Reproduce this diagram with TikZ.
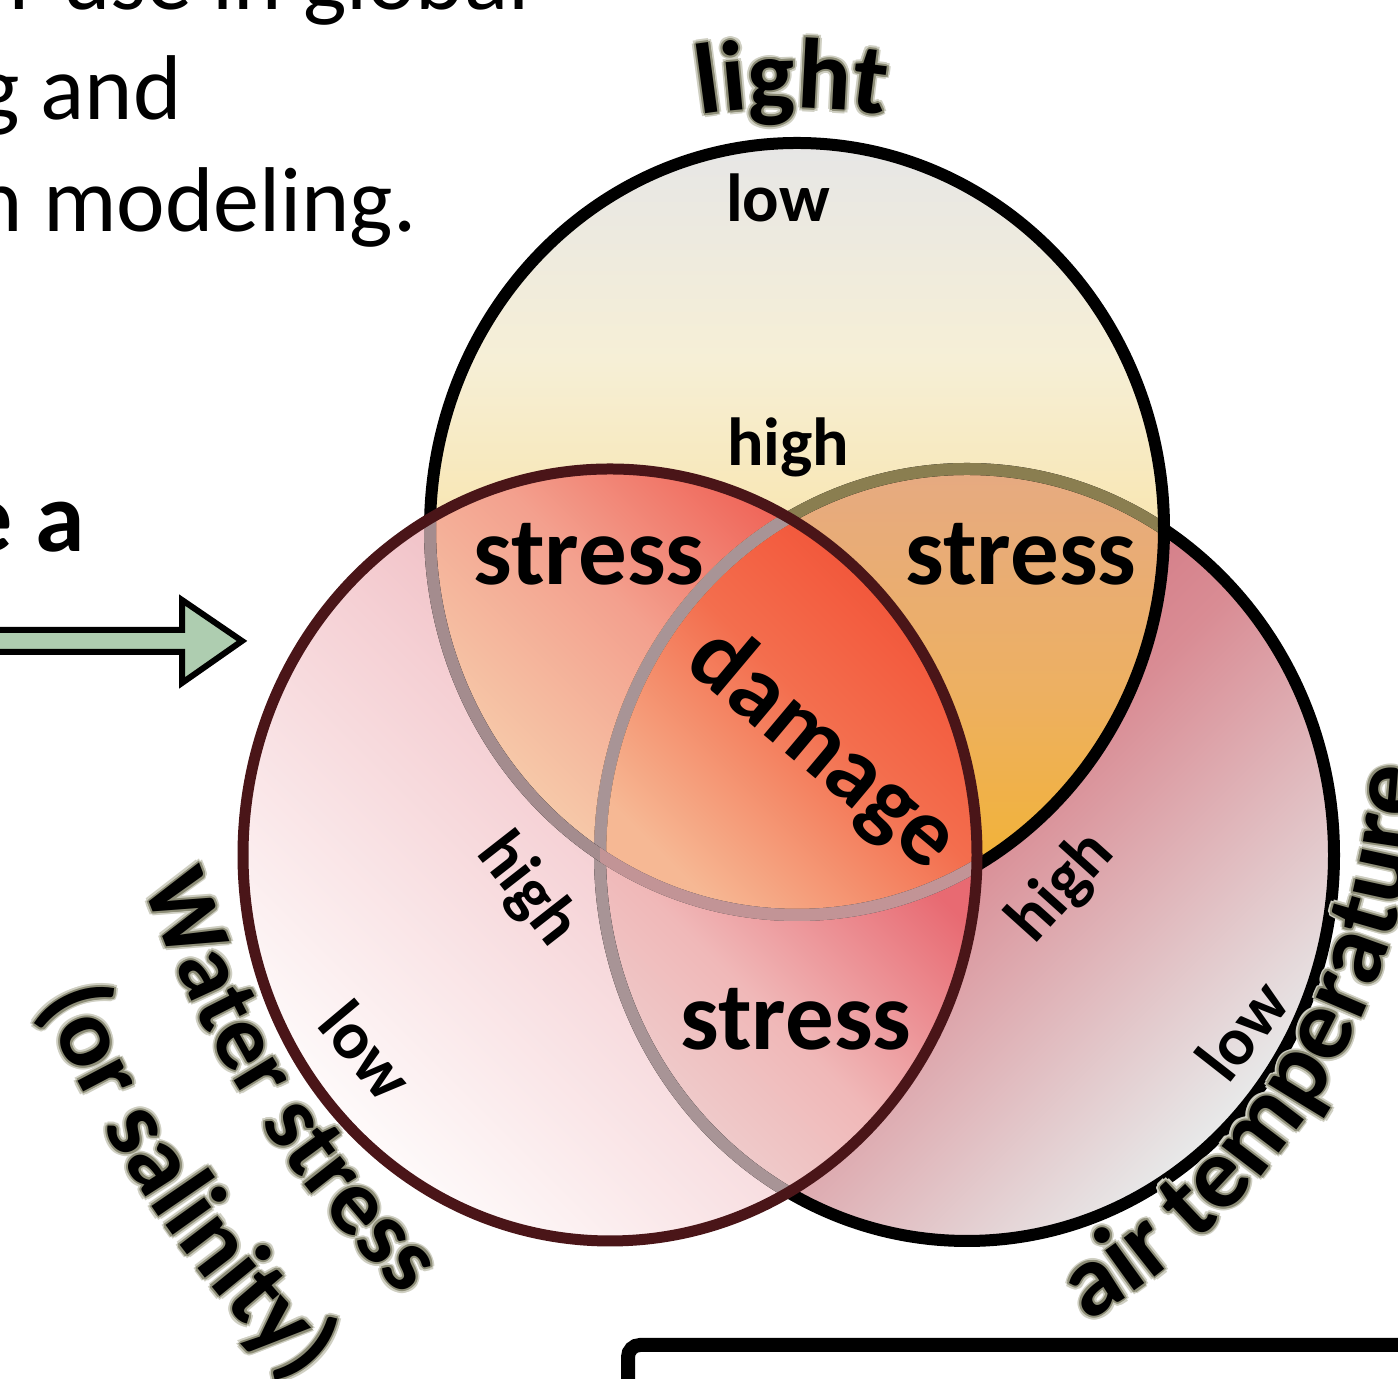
\documentclass[tikz,border=0pt]{standalone}
\usepackage{fontspec}
\setmainfont{Carlito}
\usetikzlibrary{decorations.text}
\definecolor{Lline}{HTML}{4A1518}
\definecolor{arrowgreen}{HTML}{AECDB0}
\definecolor{glowout}{HTML}{CFCFC2}
\definecolor{glowin}{HTML}{8E8E78}
\definecolor{Ttop}{HTML}{E6E6E6}
\definecolor{Tmid}{HTML}{F6EFD6}
\definecolor{Tbot}{HTML}{F9E3A6}
\definecolor{Rdark}{HTML}{C85868}
\definecolor{Rmid}{HTML}{D98C94}
\definecolor{Rlight}{HTML}{E8EAEA}
\definecolor{Ldark}{HTML}{E8A0A8}
\definecolor{Lmid}{HTML}{F5D0D4}
\definecolor{Llight}{HTML}{FEFAFA}
\definecolor{TRtop}{HTML}{E6AA82}
\definecolor{TRmid}{HTML}{EDB062}
\definecolor{TRbot}{HTML}{F3B32C}
\definecolor{TLdark}{HTML}{EE4A40}
\definecolor{TLmid}{HTML}{F3A08E}
\definecolor{TLlight}{HTML}{F7D4B0}
\definecolor{Cdark}{HTML}{F24A30}
\definecolor{Cmid}{HTML}{F36E4E}
\definecolor{Clight}{HTML}{F6B894}
\definecolor{LRdark}{HTML}{E86A72}
\definecolor{LRmid}{HTML}{F0B8B8}
\definecolor{LRlight}{HTML}{EED6D6}
\definecolor{olivefade}{HTML}{8A7E50}
\definecolor{grayfadeL}{HTML}{A89496}
\definecolor{peachfade}{HTML}{EFA286}
\definecolor{TfadeL}{HTML}{A48C8E}
\definecolor{TfadeLR}{HTML}{C29496}
\newcommand{\ArcLabel}[4]{%
  \foreach \gx/\gy in {4/0,-4/0,0/4,0/-4,3/3,-3/3,3/-3,-3/-3}{%
    \path[shift={(\gx,\gy)}, decorate,
      decoration={text along path, text={|\color{glowout}#1|#2}, text align=#3}] #4;}
  \foreach \gx/\gy in {2/0,-2/0,0/2,0/-2,1.5/1.5,-1.5/1.5,1.5/-1.5,-1.5/-1.5}{%
    \path[shift={(\gx,\gy)}, decorate,
      decoration={text along path, text={|\color{glowin}#1|#2}, text align=#3}] #4;}
  \path[decorate, decoration={text along path, text={|#1|#2}, text align=#3}] #4;
}
\begin{document}
\begin{tikzpicture}[x=0.5pt,y=0.5pt,
  Tp/.style={insert path={(797,850) ellipse [x radius=183.5pt, y radius=193pt]}},
  Lp/.style={insert path={(610,524) ellipse [x radius=183.5pt, y radius=193pt]}},
  Rp/.style={insert path={(967,524) ellipse [x radius=183.5pt, y radius=193pt]}},
  notT/.style={insert path={(3000,-1000) rectangle (-1000,3000) (797,850) ellipse [x radius=183.5pt, y radius=193pt]}},
  notL/.style={insert path={(3000,-1000) rectangle (-1000,3000) (610,524) ellipse [x radius=183.5pt, y radius=193pt]}},
  notR/.style={insert path={(3000,-1000) rectangle (-1000,3000) (967,524) ellipse [x radius=183.5pt, y radius=193pt]}},
  ring/.style={line width=6pt},
  lowhigh/.style={font=\fontsize{34}{40}\selectfont\bfseries, inner sep=0pt},
  bigword/.style={font=\fontsize{48.5}{56}\selectfont\bfseries, inner sep=0pt},
  bodytext/.style={font=\fontsize{46}{55}\selectfont, inner sep=0pt, anchor=base east},
]
\useasboundingbox (0,0) rectangle (1398,1379);
\clip (0,0) rectangle (1398,1379);
\fill[white] (0,0) rectangle (1398,1379);

% ---------- fills ----------
\shade[Rp, top color=Rdark, bottom color=Rlight, middle color=Rmid, shading angle=45];
\begin{scope}
  \clip[Tp];
  \fill[Tbot] (400,400) rectangle (1200,1300);
  \shade[top color=Ttop, bottom color=Tbot, middle color=Tmid] (425,799) rectangle (1170,1239);
\end{scope}
\begin{scope}
  \clip[Lp];
  \fill[Llight] (200,100) rectangle (1000,960);
  \shade[Lp, top color=Ldark, bottom color=Llight, middle color=Lmid, shading angle=-45];
\end{scope}
\begin{scope}
  \clip[Tp]; \clip[Rp];
  \shade[top color=TRtop, bottom color=TRbot, middle color=TRmid] (595,466) rectangle (1172,913);
\end{scope}
\begin{scope}
  \clip[Tp]; \clip[Lp];
  \shade[top color=TLdark, bottom color=TLlight, middle color=TLmid, shading angle=-45] (425,466) rectangle (990,913);
\end{scope}
\begin{scope}
  \clip[Lp]; \clip[Rp];
  \shade[top color=LRdark, bottom color=LRlight, middle color=LRmid, shading angle=-45] (595,129) rectangle (985,559);
\end{scope}
\begin{scope}
  \clip[Tp]; \clip[Lp]; \clip[Rp];
  \shade[top color=Cdark, bottom color=Clight, middle color=Cmid, shading angle=-45] (595,466) rectangle (990,913);
\end{scope}

% ---------- outlines ----------
\begin{scope}\clip[notT]; \clip[notL]; \draw[Rp, ring, black]; \end{scope}
\begin{scope}\clip[Tp]; \clip[notL]; \draw[Rp, ring, olivefade]; \end{scope}
\begin{scope}\clip[Tp]; \clip[Lp]; \draw[Rp, ring, peachfade]; \end{scope}
\begin{scope}\clip[Lp]; \clip[notT]; \draw[Rp, ring, grayfadeL]; \end{scope}
\begin{scope}\clip[notL]; \draw[Tp, ring, black]; \end{scope}
\begin{scope}\clip[Lp]; \clip[notR]; \draw[Tp, ring, TfadeL]; \end{scope}
\begin{scope}\clip[Lp]; \clip[Rp]; \draw[Tp, ring, TfadeLR]; \end{scope}
\draw[Lp, line width=5.5pt, Lline];

% ---------- inner labels ----------
\node[lowhigh, anchor=base] (lowT) at (778,1157) {low};
\node[lowhigh, anchor=base] (highT) at (788,913) {high};
\node[bigword, anchor=base] (stressTL) at (589,794) {stress};
\node[bigword, anchor=base] (stressTR) at (1021,794) {stress};
\node[bigword, anchor=base] (stressLR) at (796,329) {stress};
\node[bigword, rotate=-40] (damage) at (822,629) {damage};
\node[lowhigh, rotate=-52] (highL) at (527,489) {high};
\node[lowhigh, rotate=-50] (lowL) at (367,329) {low};
\node[lowhigh, rotate=48] (highR) at (1062,491) {high};
\node[lowhigh, rotate=52] (lowR) at (1242,349) {low};

% ---------- curved titles ----------
\ArcLabel{\fontsize{50}{60}\selectfont\bfseries}{light}{center}%
  {(792,671) ++(110:300pt) arc[start angle=110, end angle=70, radius=300pt]}
\ArcLabel{\fontsize{47}{56}\selectfont\bfseries}{Water stress}{center}%
  {(1132,831) ++(182.3:522pt) arc[start angle=182.3, end angle=242.3, radius=522pt]}
\ArcLabel{\fontsize{49}{58}\selectfont\bfseries}{(or salinity)}{center}%
  {(1136,839) ++(184:594pt) arc[start angle=184, end angle=244, radius=594pt]}
\ArcLabel{\fontsize{51}{60}\selectfont\bfseries}{air temperature}{left}%
  {(742,643) ++(300.5:340pt) arc[start angle=300.5, end angle=390, radius=340pt]}

% ---------- left text and arrow ----------
\node[bodytext] (line1) at (530,1369) {r use in global};
\node[bodytext] (line2) at (182,1259) {g and};
\node[bodytext] (line3) at (417,1147) {n modeling.};
\node[bodytext, font=\fontsize{50}{60}\selectfont\bfseries] (linea) at (85,827) {e a};
\draw[line width=3pt, fill=arrowgreen, line join=miter]
  (-20,749) -- (182,749) -- (182,779) -- (242,738) -- (182,696) -- (182,727) -- (-20,727) -- cycle;

% ---------- box at bottom ----------
\draw[line width=7pt, rounded corners=6pt] (628,-30) -- (628,34) -- (1430,34);
\end{tikzpicture}
\end{document}
